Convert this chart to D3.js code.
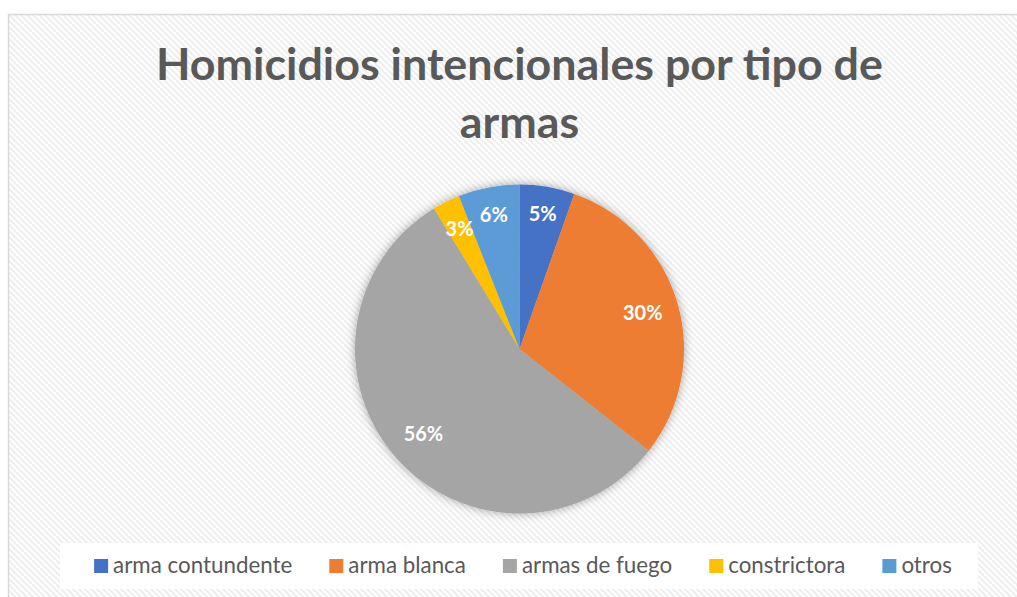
<!DOCTYPE html>
<html lang="es">
<head>
  <meta charset="UTF-8">
  <title>Homicidios intencionales por tipo de armas</title>
  <style>
    html, body { margin: 0; padding: 0; background: #fff; }
    svg { display: block; }
    .title { font-family: Lato, "Open Sans", sans-serif; font-weight: bold; fill: #595959; }
    .legend text { font-family: Lato, "Open Sans", sans-serif; fill: #595959; }
    .pct { font-family: Lato, "Open Sans", sans-serif; font-weight: bold; fill: #fff; }
  </style>
</head>
<body>
  <script src="https://d3js.org/d3.v7.min.js"></script>
  <script>
    // values (share of total, %)
    const categories = ['arma contundente', 'arma blanca', 'armas de fuego', 'constrictora', 'otros'];
    const values = [5.4, 30.2, 55.7, 2.7, 6.0];
    const colors = ['#4472C4', '#ED7D31', '#A5A5A5', '#FFC000', '#5B9BD5'];
    const titleLines = ['Homicidios intencionales por tipo de', 'armas'];

    const W = 1017, H = 597;
    const cx = 519.5, cy = 349, R = 164.5;

    const svg = d3.select('body').append('svg')
      .attr('width', W).attr('height', H);

    const defs = svg.append('defs');
    // diagonal hatch background
    const pat = defs.append('pattern')
      .attr('id', 'hatch')
      .attr('patternUnits', 'userSpaceOnUse')
      .attr('width', 6).attr('height', 6);
    pat.append('rect').attr('width', 6).attr('height', 6).attr('fill', '#ffffff');
    pat.append('path')
      .attr('d', 'M-1,-1 L7,7 M-4,2 L2,8 M4,-2 L10,4')
      .attr('stroke', '#eeeeee').attr('stroke-width', 2);

    const glow = defs.append('filter').attr('id', 'glow')
      .attr('x', '-20%').attr('y', '-20%').attr('width', '140%').attr('height', '140%');
    glow.append('feGaussianBlur').attr('in', 'SourceAlpha').attr('stdDeviation', 5).attr('result', 'b');
    glow.append('feComponentTransfer').attr('in', 'b').attr('result', 'c')
      .append('feFuncA').attr('type', 'linear').attr('slope', 0.35);
    const m = glow.append('feMerge');
    m.append('feMergeNode').attr('in', 'c');
    m.append('feMergeNode').attr('in', 'SourceGraphic');

    // chart area
    svg.append('rect')
      .attr('x', 8.5).attr('y', 14.5)
      .attr('width', W).attr('height', H)
      .attr('fill', 'url(#hatch)')
      .attr('stroke', '#d9d9d9').attr('stroke-width', 1.5);

    // title, scaled to the width seen in the picture
    const t1 = svg.append('text').attr('class', 'title')
      .attr('x', cx).attr('y', 80).attr('text-anchor', 'middle')
      .style('font-size', '46px').text(titleLines[0]);
    const fs = 46 * 727 / t1.node().getComputedTextLength();
    t1.style('font-size', fs + 'px');
    svg.append('text').attr('class', 'title')
      .attr('x', cx).attr('y', 138).attr('text-anchor', 'middle')
      .style('font-size', fs + 'px').text(titleLines[1]);

    // pie
    const pie = d3.pie().sort(null).value(d => d);
    const arcs = pie(values);
    const arc = d3.arc().innerRadius(0).outerRadius(R);

    const g = svg.append('g').attr('transform', `translate(${cx},${cy})`);
    g.append('g').attr('filter', 'url(#glow)')
      .selectAll('path')
      .data(arcs)
      .enter()
      .append('path')
        .attr('d', arc)
        .attr('fill', (d, i) => colors[i]);

    // labels inside, near the rim (best fit style)
    const lab = g.selectAll('text.pct')
      .data(arcs)
      .enter()
      .append('text')
        .attr('class', 'pct')
        .style('font-size', '20px')
        .attr('text-anchor', 'middle')
        .attr('dy', '0.36em')
        .text(d => Math.round(d.data) + '%');
    lab.each(function (d) {
      const a = (d.startAngle + d.endAngle) / 2;
      const w = this.getComputedTextLength() / 2, h = 11;
      const rr = R - 14 - (Math.abs(Math.sin(a)) * w + Math.abs(Math.cos(a)) * h);
      d3.select(this)
        .attr('x', Math.sin(a) * rr)
        .attr('y', -Math.cos(a) * rr);
    });

    // legend
    svg.append('rect')
      .attr('x', 60).attr('y', 543).attr('width', 918).attr('height', 46)
      .attr('fill', '#ffffff');
    const leg = svg.append('g').attr('class', 'legend');
    const items = leg.selectAll('g')
      .data(categories)
      .enter()
      .append('g');
    items.append('rect')
      .attr('width', 14).attr('height', 14)
      .attr('y', 559)
      .attr('fill', (d, i) => colors[i]);
    const txt = items.append('text')
      .attr('y', 573)
      .style('font-size', '20px')
      .text(d => d);
    // fit font so the whole row spans the same width as the picture
    const gap = 37, sq = 19;
    const rowW = () => {
      let s = 0;
      txt.each(function () { s += sq + this.getComputedTextLength(); });
      return s + gap * (categories.length - 1);
    };
    const lfs = 20 * (858 - (sq * 5 + gap * 4)) / (rowW() - (sq * 5 + gap * 4));
    txt.style('font-size', lfs + 'px');
    let x = 523 - rowW() / 2;
    items.each(function () {
      const it = d3.select(this);
      it.select('rect').attr('x', x);
      it.select('text').attr('x', x + sq);
      x += sq + it.select('text').node().getComputedTextLength() + gap;
    });
  </script>
</body>
</html>
